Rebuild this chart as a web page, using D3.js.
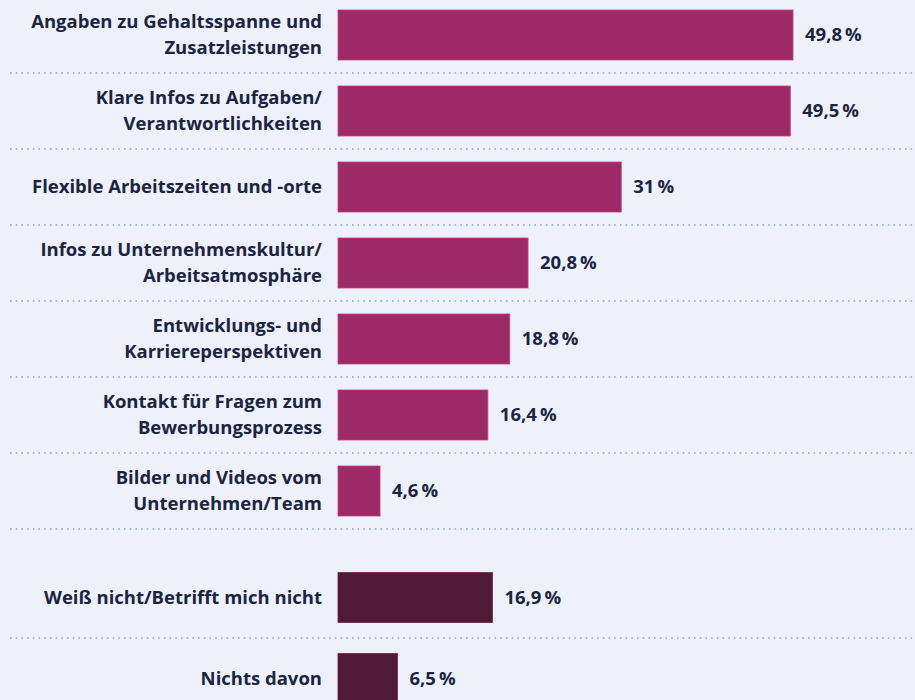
<!DOCTYPE html>
<html>
<head>
<meta charset="utf-8">
<script src="https://cdn.jsdelivr.net/npm/d3@7"></script>
<style>
  body { margin: 0; background: #eef1fc; }
  svg { display: block; }
  text { font-family: "Open Sans", sans-serif; font-weight: 700; fill: #1b2540; }
</style>
</head>
<body>
<svg width="915" height="700"></svg>
<script>
// Gruppe 1: Inhalte, Gruppe 2: Rest
const categories = [
  ["Angaben zu Gehaltsspanne und", "Zusatzleistungen"],
  ["Klare Infos zu Aufgaben/", "Verantwortlichkeiten"],
  ["Flexible Arbeitszeiten und -orte"],
  ["Infos zu Unternehmenskultur/", "Arbeitsatmosphäre"],
  ["Entwicklungs- und", "Karriereperspektiven"],
  ["Kontakt für Fragen zum", "Bewerbungsprozess"],
  ["Bilder und Videos vom", "Unternehmen/Team"]
];
const values = [49.8, 49.5, 31, 20.8, 18.8, 16.4, 4.6];
const otherCategories = [["Weiß nicht/Betrifft mich nicht"], ["Nichts davon"]];
const otherValues = [16.9, 6.5];

const svg = d3.select("svg");
const x0 = 338;
const x = d3.scaleLinear().domain([0, 49.8]).range([x0, 793]);
const fmt = v => String(v).replace(".", ",") + "\u2009%";

const y1 = d3.scaleBand().domain(d3.range(values.length)).range([-3, 529])
  .paddingInner(26 / 76).paddingOuter(13 / 76);
const y2 = d3.scaleBand().domain(d3.range(otherValues.length)).range([557, 719])
  .paddingInner(31 / 81).paddingOuter(15.5 / 81);

const dotted = y =>
  svg.append("line")
    .attr("x1", 10).attr("x2", 915).attr("y1", y).attr("y2", y)
    .attr("stroke", "#8da3dc").attr("stroke-width", 1.6)
    .attr("stroke-dasharray", "1.6 4.1");

function drawGroup(cats, vals, y, color) {
  const g = svg.append("g");
  const rows = g.selectAll("g").data(vals).enter().append("g");
  rows.append("rect")
    .attr("x", x0)
    .attr("y", (d, i) => y(i))
    .attr("width", d => x(d) - x0)
    .attr("height", y.bandwidth())
    .attr("fill", color)
    .attr("stroke", d3.color(color).brighter(0.8))
    .attr("stroke-width", 0.8);
  rows.append("text")
    .attr("x", d => x(d) + 12)
    .attr("y", (d, i) => y(i) + y.bandwidth() / 2 + 6)
    .attr("font-size", 18.5)
    .text(d => fmt(d));
  const lbl = rows.append("text")
    .attr("text-anchor", "end")
    .attr("font-size", 18.5);
  lbl.each(function (d, i) {
    const lines = cats[i];
    const mid = y(i) + y.bandwidth() / 2;
    lines.forEach((t, k) => {
      d3.select(this).append("tspan")
        .attr("x", 322)
        .attr("y", mid + 6 + (k - (lines.length - 1) / 2) * 26)
        .text(t);
    });
  });
}

// Trennlinien
values.forEach((v, i) => dotted(y1(i) + y1.step() - 13));
dotted((y2(0) + y2.bandwidth() + y2(1)) / 2);

drawGroup(categories, values, y1, "#9c2a66");
drawGroup(otherCategories, otherValues, y2, "#4f1b36");
</script>
</body>
</html>
